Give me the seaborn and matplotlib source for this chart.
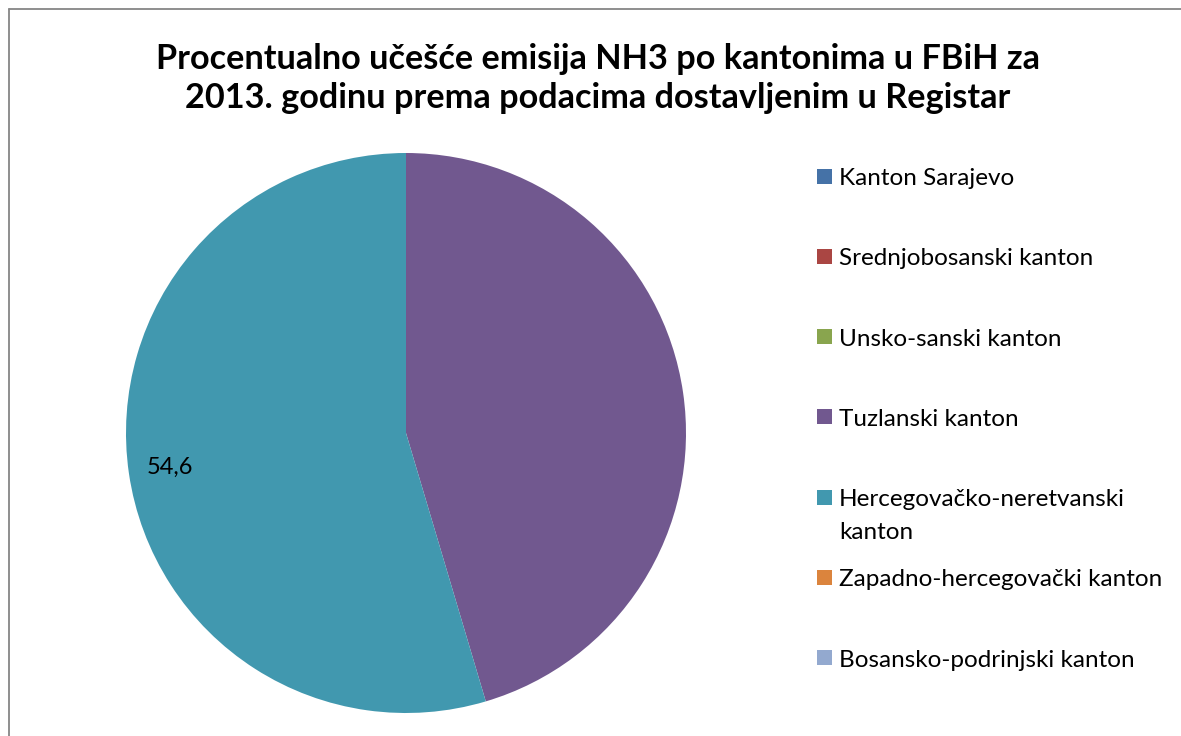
import matplotlib
matplotlib.use("Agg")
import matplotlib.pyplot as plt
import seaborn as sns
import numpy as np
from matplotlib.lines import Line2D
from matplotlib.patches import Rectangle

# data
cantons = [
    "Kanton Sarajevo",
    "Srednjobosanski kanton",
    "Unsko-sanski kanton",
    "Tuzlanski kanton",
    "Hercegovačko-neretvanski\nkanton",
    "Zapadno-hercegovački kanton",
    "Bosansko-podrinjski kanton",
]
shares = [0.0, 0.0, 0.0, 45.4, 54.6, 0.0, 0.0]
shown_labels = ["", "", "", "", "54,6", "", ""]
colors = ["#4572A7", "#AA4643", "#89A54E", "#71588F", "#4198AF", "#DB843D", "#93A9CF"]
title = ("Procentualno učešće emisija NH3 po kantonima u FBiH za\n"
         "2013. godinu prema podacima dostavljenim u Registar")

sns.set_theme(style="white")
plt.rcParams["font.family"] = ["Lato", "DejaVu Sans"]

W, H = 1181, 736
fig = plt.figure(figsize=(W / 100, H / 100), dpi=100)
fig.patch.set_facecolor("white")

# pie axes: centre (406, 433) px, radius 280 px
cx, cy, r = 406, 433, 280
ax = fig.add_axes([(cx - r) / W, 1 - (cy + r) / H, 2 * r / W, 2 * r / H])
wedges, _ = ax.pie(shares, colors=colors, startangle=90, counterclock=False,
                   radius=1, wedgeprops=dict(linewidth=0))
ax.set_xlim(-1, 1)
ax.set_ylim(-1, 1)
ax.set_aspect("equal")
ax.axis("off")

# data labels inside the slices
for w, lab in zip(wedges, shown_labels):
    if not lab:
        continue
    ang = np.deg2rad((w.theta1 + w.theta2) / 2)
    ax.text(0.853 * np.cos(ang), 0.853 * np.sin(ang), lab, ha="center",
            va="center", fontsize=17, color="black")

# title
fig.text(598 / W, 1 - 43 / H, title, ha="center", va="top", fontsize=24.7,
         fontweight="bold", linespacing=1.27, color="black")

# legend
y0, step = 176, 80.3
for i, (name, col) in enumerate(zip(cantons, colors)):
    y = y0 + i * step
    fig.add_artist(Rectangle((817 / W, 1 - (y + 7.5) / H), 15 / W, 15 / H,
                             transform=fig.transFigure, facecolor=col,
                             edgecolor="none"))
    fig.text(839 / W, 1 - (y - 8) / H, name, ha="left", va="top",
             fontsize=17.5, color="black", linespacing=1.7)

# chart frame (cut off at right and bottom)
frame_kw = dict(transform=fig.transFigure, color="#868686", linewidth=1.3)
fig.add_artist(Line2D([8.5 / W, 8.5 / W], [0, 1 - 8.5 / H], **frame_kw))
fig.add_artist(Line2D([8.5 / W, 1], [1 - 8.5 / H, 1 - 8.5 / H], **frame_kw))

fig.savefig("out.png", dpi=100, facecolor="white")
